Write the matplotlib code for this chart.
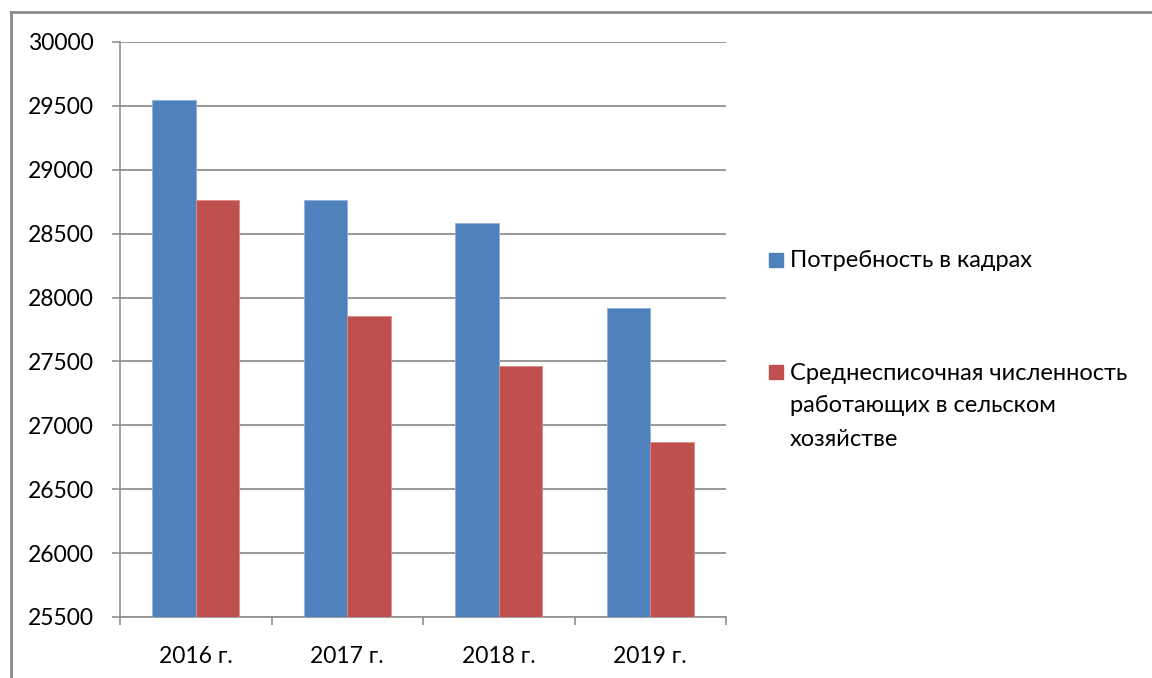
import matplotlib
matplotlib.use("Agg")
import matplotlib.pyplot as plt
import numpy as np
from matplotlib.lines import Line2D
from matplotlib.patches import Rectangle

plt.rcParams['font.family'] = ['Lato', 'DejaVu Sans']

categories = ["2016 г.", "2017 г.", "2018 г.", "2019 г."]
need = [29543, 28760, 28580, 27917]
staff = [28760, 27857, 27468, 26873]
series_names = ["Потребность в кадрах",
                "Среднесписочная численность\nработающих в сельском\nхозяйстве"]
colors = ["#4F81BD", "#C0504D"]
yticks = [25500, 26000, 26500, 27000, 27500, 28000, 28500, 29000, 29500, 30000]

fig = plt.figure(figsize=(11.52, 6.78), dpi=100)
ax = fig.add_axes([120/1152, 1-617/678, 606/1152, (617-42)/678])

x = np.arange(len(categories))
w = 0.287
ax.bar(x - w/2, need, w, color=colors[0], edgecolor="#8fb0d9", linewidth=0.6, zorder=3)
ax.bar(x + w/2, staff, w, color=colors[1], edgecolor="#d98c8a", linewidth=0.6, zorder=3)

ax.set_xlim(-0.5, len(categories) - 0.5)
ax.set_ylim(yticks[0], yticks[-1])
ax.set_yticks(yticks)
ax.set_yticklabels([str(v) for v in yticks], fontsize=16.5)
ax.yaxis.grid(True, color="#909090", linewidth=1.3, zorder=0)
ax.set_axisbelow(True)

ax.set_xticks(x)
ax.set_xticklabels(categories, fontsize=16.5)
ax.set_xticks(np.arange(len(categories) + 1) - 0.5, minor=True)
ax.tick_params(axis='x', which='major', length=0, pad=21)
ax.tick_params(axis='x', which='minor', length=6, color="#909090", width=1.2)
ax.tick_params(axis='y', length=6, color="#909090", width=1.2, pad=13)

for s in ["top", "right"]:
    ax.spines[s].set_visible(False)
for s in ["left", "bottom"]:
    ax.spines[s].set_color("#909090")
    ax.spines[s].set_linewidth(1.2)

# legend drawn manually in figure pixel coordinates
def fx(px):
    return px / 1152
def fy(py):
    return 1 - py / 678

sq = 14
leg_y = [260, 372]
for yc, c in zip(leg_y, colors):
    fig.add_artist(Rectangle((fx(769), fy(yc + sq/2)), sq/1152, sq/678,
                             transform=fig.transFigure, color=c))

fig.text(fx(790), fy(260), series_names[0], fontsize=17, ha="left", va="center")
for j, ln in enumerate(series_names[1].split("\n")):
    fig.text(fx(790), fy(373 + 33*j), ln, fontsize=17, ha="left", va="center")

# outer frame
fig.add_artist(Line2D([fx(11), 1], [fy(12), fy(12)], transform=fig.transFigure,
                      color="#8a8a8a", linewidth=2))
fig.add_artist(Line2D([fx(11), fx(11)], [fy(12), 0], transform=fig.transFigure,
                      color="#8a8a8a", linewidth=2))

fig.savefig("out.png", dpi=100)
